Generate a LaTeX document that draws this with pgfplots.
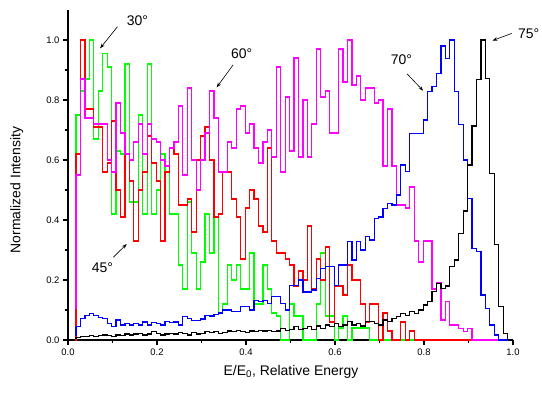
\documentclass[border=0pt]{standalone}
\usepackage{fontspec}
\setmainfont{Liberation Sans}
\usepackage{pgfplots}
\usepackage{pgfplotstable}
\pgfplotsset{compat=1.18}
\usetikzlibrary{calc,arrows.meta}
\definecolor{cg}{RGB}{0,255,0}
\definecolor{cr}{RGB}{255,0,0}
\definecolor{cm}{RGB}{255,0,255}
\definecolor{cb}{RGB}{0,0,255}
\definecolor{ck}{RGB}{0,0,0}
\pgfplotstableread{
x g r m b k
0.016 0 0 0.106 0.017 0.005
0.018 0.75 0.62 0.55 0.044 0.008
0.028 0.83 1.0 0.87 0.072 0.011
0.038 0.87 0.77 0.74 0.083 0.011
0.048 1.0 0.77 0.74 0.089 0.014
0.058 0.67 0.71 0.72 0.083 0.011
0.068 0.83 0.71 0.72 0.075 0.014
0.078 0.955 0.56 0.72 0.072 0.017
0.088 0.91 0.59 0.6 0.056 0.014
0.098 0.42 0.73 0.56 0.044 0.011
0.108 0.63 0.5 0.79 0.067 0.017
0.118 0.62 0.41 0.69 0.05 0.014
0.128 0.92 0.62 0.62 0.056 0.02
0.138 0.46 0.53 0.6 0.05 0.017
0.148 0.46 0.33 0.66 0.056 0.02
0.158 0.75 0.5 0.72 0.05 0.022
0.168 0.42 0.56 0.62 0.06 0.017
0.178 0.92 0.68 0.72 0.05 0.02
0.188 0.42 0.59 0.67 0.058 0.028
0.198 0.5 0.53 0.66 0.055 0.022
0.208 0.62 0.33 0.6 0.05 0.017
0.218 0.56 0.56 0.58 0.062 0.02
0.228 0.42 0.64 0.64 0.058 0.022
0.238 0.42 0.62 0.66 0.06 0.02
0.248 0.25 0.45 0.78 0.05 0.025
0.258 0.17 0.45 0.55 0.078 0.022
0.268 0.46 0.47 0.84 0.072 0.017
0.278 0.29 0.36 0.6 0.065 0.025
0.288 0.17 0.6 0.5 0.065 0.02
0.298 0.26 0.68 0.6 0.07 0.022
0.308 0.42 0.71 0.69 0.083 0.028
0.318 0.29 0.6 0.83 0.08 0.025
0.328 0.41 0.41 0.74 0.085 0.028
0.338 0.09 0.42 0.56 0.09 0.022
0.348 0.12 0.56 0.56 0.1 0.025
0.358 0.25 0.56 0.66 0.1 0.03
0.368 0.2 0.47 0.64 0.094 0.028
0.378 0.25 0.41 0.77 0.094 0.033
0.388 0.17 0.27 0.78 0.111 0.028
0.398 0.17 0.44 0.69 0.111 0.025
0.408 0.29 0.5 0.72 0.1 0.03
0.418 0.12 0.47 0.64 0.133 0.028
0.428 0.12 0.38 0.59 0.128 0.033
0.438 0.25 0.36 0.66 0.133 0.03
0.448 0.17 0.64 0.70 0.122 0.033
0.458 0.09 0.33 0.61 0.144 0.028
0.468 0.08 0.29 0.91 0.144 0.03
0.478 0 0.29 0.56 0.122 0.039
0.488 0 0.27 0.81 0.1 0.033
0.498 0.12 0.25 0.63 0.183 0.036
0.508 0.08 0.18 0.94 0.183 0.044
0.518 0.08 0.23 0.61 0.2 0.036
0.528 0 0.2 0.8 0.16 0.039
0.538 0 0.38 0.61 0.16 0.044
0.548 0 0.17 0.72 0.167 0.036
0.558 0.12 0.27 0.97 0.206 0.047
0.568 0.29 0.2 0.81 0.239 0.039
0.578 0.08 0.31 0.83 0.244 0.05
0.588 0.08 0.06 0.69 0.244 0.044
0.598 0 0.18 0.69 0.183 0.056
0.608 0.04 0.18 0.97 0.25 0.044
0.618 0.08 0.15 0.86 0.25 0.05
0.628 0 0.25 1.0 0.328 0.061
0.638 0.04 0.2 0.85 0.267 0.05
0.648 0.04 0.2 0.88 0.328 0.056
0.658 0.04 0.12 0.8 0.3 0.047
0.668 0.04 0.06 0.84 0.344 0.061
0.678 0 0.12 0.84 0.333 0.061
0.688 0 0.12 0.79 0.406 0.056
0.698 0 0 0.8 0.41 0.05
0.708 0 0.09 0.58 0.439 0.067
0.718 0 0.03 0.77 0.456 0.061
0.728 0 0 0.58 0.45 0.072
0.738 0 0 0.45 0.483 0.078
0.748 0 0.06 0.45 0.583 0.089
0.758 0 0 0.44 0.561 0.083
0.768 0 0.03 0.51 0.689 0.094
0.778 0 0 0.33 0.689 0.089
0.788 0 0 0.26 0.689 0.1
0.798 0 0 0.33 0.733 0.117
0.808 0 0 0.33 0.828 0.128
0.818 0 0 0.17 0.844 0.161
0.828 0 0 0.19 0.889 0.189
0.838 0 0 0.067 0.98 0.172
0.848 0 0 0.128 0.939 0.18
0.858 0 0 0.05 1.0 0.244
0.868 0 0 0.05 0.828 0.267
0.878 0 0 0.039 0.717 0.356
0.888 0 0 0.028 0.6 0.43
0.898 0 0 0.039 0.472 0.583
0.908 0 0 0 0.306 0.713
0.918 0 0 0 0.294 0.867
0.928 0 0 0 0.15 1.0
0.938 0 0 0 0.106 0.872
0.948 0 0 0 0.05 0.556
0.958 0 0 0 0.017 0.317
0.968 0 0 0 0 0.111
0.978 0 0 0 0 0.022
0.988 0 0 0 0 0
}\data
\begin{document}
\begin{tikzpicture}
\begin{axis}[
  name=ax,
  scale only axis, width=445bp, height=330bp,
  xmin=0, xmax=1, ymin=0, ymax=1.1,
  axis lines=left,
  axis line style={-, line width=1.3bp},
  tick align=outside,
  xtick={0,0.2,0.4,0.6,0.8,1.0},
  ytick={0,0.2,0.4,0.6,0.8,1.0},
  minor xtick={0.1,0.3,0.5,0.7,0.9},
  minor ytick={0.1,0.3,0.5,0.7,0.9},
  major tick length=5bp, minor tick length=3bp,
  tick style={black, line width=1.1bp},
  /pgf/number format/fixed,
  /pgf/number format/fixed zerofill,
  /pgf/number format/precision=1,
  /pgf/number format/assume math mode=true,
  tick label style={font=\fontsize{9.5}{11}\selectfont},
  xlabel={E/E\textsubscript{0}, Relative Energy},
  ylabel={Normalized Intensity},
  label style={font=\fontsize{14}{16}\selectfont},
  xlabel style={at={(axis description cs:0.501,-0.097)}, anchor=center},
  ylabel style={at={(axis description cs:-0.115,0.4545)}, anchor=center},
  clip=false,
]
\addplot[const plot, draw=cg, line width=1.2bp] table[x=x,y=g] {\data};
\addplot[const plot, draw=cr, line width=1.2bp] table[x=x,y=r] {\data};
\addplot[const plot, draw=cm, line width=1.2bp] table[x=x,y=m] {\data};
\addplot[const plot, draw=cb, line width=1.2bp] table[x=x,y=b] {\data};
\addplot[const plot, draw=ck, line width=1.2bp] table[x=x,y=k] {\data};
\begin{scope}[every node/.style={font=\fontsize{14}{16}\selectfont}]
\node at (axis cs:0.156,1.063) {30°};
\node at (axis cs:0.0775,0.24) {45°};
\node at (axis cs:0.39,0.955) {60°};
\node at (axis cs:0.749,0.933) {70°};
\node at (axis cs:1.035,1.022) {75°};
\end{scope}
\begin{scope}[line width=0.6bp, -{Stealth[length=5bp,width=3.5bp]}]
\draw (axis cs:0.111,1.044) -- (axis cs:0.072,0.972);
\draw (axis cs:0.102,0.276) -- (axis cs:0.132,0.32);
\draw (axis cs:0.371,0.917) -- (axis cs:0.334,0.842);
\draw (axis cs:0.762,0.887) -- (axis cs:0.798,0.831);
\draw (axis cs:0.997,1.022) -- (axis cs:0.954,0.998);
\end{scope}
\end{axis}
\pgfresetboundingbox
\path[use as bounding box] ($(ax.south west)+(-68bp,-54bp)$) rectangle ($(ax.south west)+(474bp,340bp)$);
\end{tikzpicture}
\end{document}
